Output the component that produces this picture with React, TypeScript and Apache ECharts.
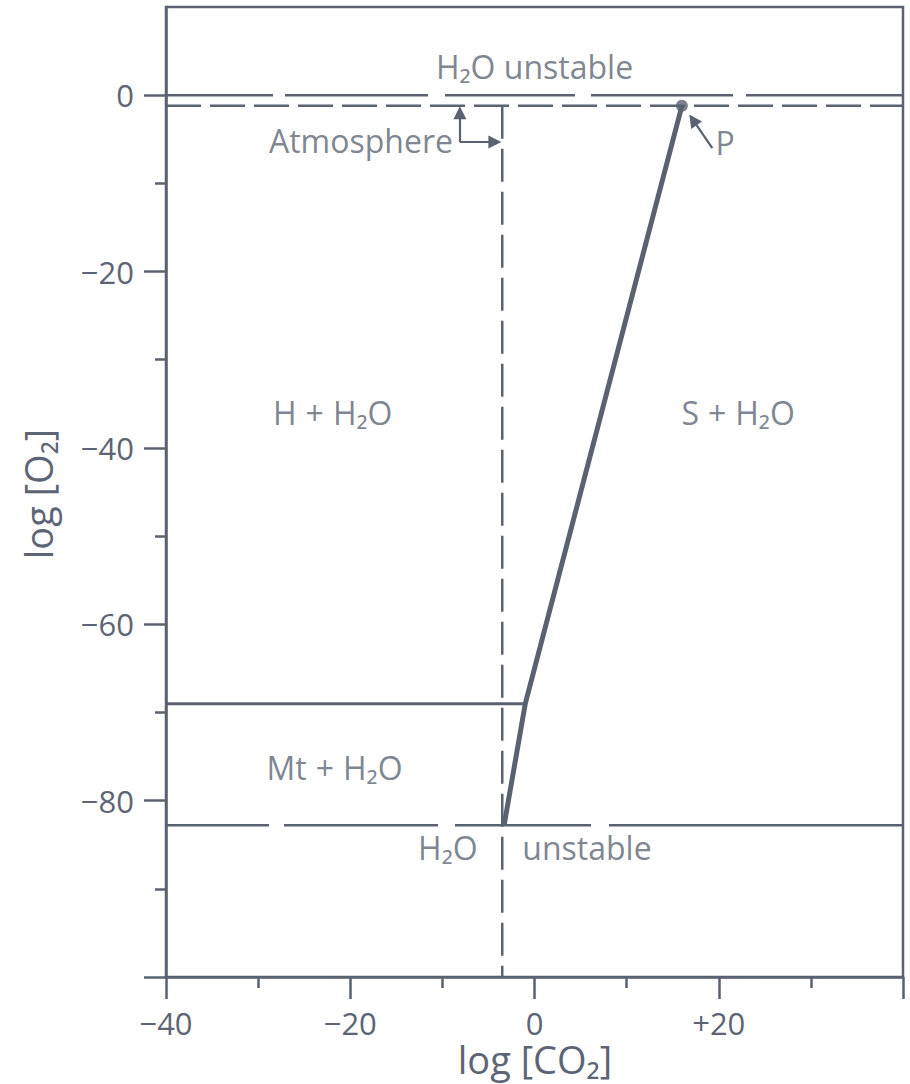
import React, { useEffect, useRef } from "react";
import * as echarts from "echarts";

// ---- axis extents and ticks ----
const xExtent = [-40, 40];
const yExtent = [-100, 10];
const xMajorTicks = [-40, -20, 0, 20, 40];
const xTickLabels = ["−40", "−20", "0", "+20", ""];
const yMajorTicks = [-100, -80, -60, -40, -20, 0];
const yMinorTicks = [-90, -70, -50, -30, -10];
const yTickLabels = ["", "−80", "−60", "−40", "−20", "0"];
const xTitle = "log [CO₂]";
const yTitle = "log [O₂]";

// ---- boundaries (log CO2, log O2) ----
const upperWaterLimit = [[-40, 0], [40, 0]];
const atmosphereO2 = [[-40, -1.2], [40, -1.2]];
const atmosphereCO2 = [[-3.5, -1.2], [-3.5, -100]];
const lowerWaterLimit = [[-40, -82.8], [40, -82.8]];
const hematiteMagnetite = [[-40, -69], [-1, -69]];
const sideriteBoundary = [[16, -1.2], [-1, -69], [-3.3, -82.8]];
const pointP = [[16, -1.2]];

// ---- arrows ----
const atmosphereArrowUp = [[-8.1, -5.3], [-8.1, -2.0]];
const atmosphereArrowRight = [[-8.1, -5.3], [-4.3, -5.3]];
const pArrow = [[19.3, -6.0], [17.2, -2.8]];

// ---- annotations ----
const centeredLabels = [
  { name: "H₂O unstable", value: [0, 3.3] },
  { name: "H + H₂O", value: [-21.9, -36] },
  { name: "S + H₂O", value: [22.1, -36] },
  { name: "Mt + H₂O", value: [-21.7, -76.2] },
  { name: "H₂O", value: [-9.4, -85.3] },
  { name: "unstable", value: [5.7, -85.3] },
  { name: "P", value: [20.7, -5.4] },
];
const rightAlignedLabels = [{ name: "Atmosphere", value: [-8.8, -5.1] }];

const INK = "#5a6271";
const TEXT = "#5d6574";
const FONT = "'Open Sans', 'Noto Sans', sans-serif";

export default function App() {
  const ref = useRef<HTMLDivElement>(null);

  useEffect(() => {
    if (!ref.current) return;
    const chart = echarts.init(ref.current, undefined, { renderer: "svg" });

    const lineSeries = (data: number[][], width: number, type: any, dashOffset = 0) => ({
      type: "line",
      data,
      symbol: "none",
      silent: true,
      lineStyle: { color: INK, width, type, dashOffset, cap: "butt" },
      z: 3,
    });

    const arrowSeries = (coords: number[][]) => ({
      type: "lines",
      coordinateSystem: "cartesian2d",
      silent: true,
      symbol: ["none", "triangle"],
      symbolSize: [10, 13],
      lineStyle: { color: INK, width: 2.2, opacity: 1, curveness: 0 },
      itemStyle: { color: INK },
      data: [{ coords }],
      z: 4,
    });

    const labelText = {
      fontSize: 32,
      color: TEXT,
      fontFamily: FONT,
      rich: {
        p: { fontSize: 32, color: TEXT, fontFamily: FONT, padding: [0, 9, 0, 9] },
      },
    };

    const titleStyle = {
      fontSize: 38,
      lineHeight: 38,
      fontFamily: FONT,
      fontWeight: 500,
      fill: TEXT,
      align: "center",
      verticalAlign: "middle",
    };

    chart.setOption({
      animation: false,
      backgroundColor: "#ffffff",
      grid: {
        left: 166,
        right: 7,
        top: 7,
        bottom: 107,
        outerBoundsMode: "none",
        containLabel: false,
        show: true,
        borderColor: INK,
        borderWidth: 2.5,
        backgroundColor: "transparent",
      },
      xAxis: {
        type: "value",
        min: xExtent[0],
        max: xExtent[1],
        interval: 20,
        axisLine: { show: true, onZero: false, lineStyle: { color: INK, width: 2.5 } },
        axisTick: { show: true, length: 22, lineStyle: { color: INK, width: 2.5 } },
        minorTick: { show: true, splitNumber: 2, length: 11, lineStyle: { color: INK, width: 2.5 } },
        splitLine: { show: false },
        minorSplitLine: { show: false },
        axisLabel: {
          margin: 33,
          fontSize: 31,
          lineHeight: 26,
          color: TEXT,
          fontFamily: FONT,
          formatter: (v: number) => {
            const i = xMajorTicks.indexOf(v);
            return i >= 0 ? xTickLabels[i] : "";
          },
        },
      },
      yAxis: [
        {
          type: "value",
          position: "left",
          min: yExtent[0],
          max: yExtent[1],
          interval: 20,
          axisLine: { show: true, onZero: false, lineStyle: { color: INK, width: 2.5 } },
          axisTick: { show: true, length: 22, customValues: yMajorTicks, lineStyle: { color: INK, width: 2.5 } },
          splitLine: { show: false },
          axisLabel: {
            margin: 32,
            fontSize: 31,
            color: TEXT,
            fontFamily: FONT,
            customValues: yMajorTicks,
            formatter: (v: number) => {
              const i = yMajorTicks.indexOf(v);
              return i >= 0 ? yTickLabels[i] : "";
            },
          },
        },
        {
          type: "value",
          position: "left",
          min: yExtent[0],
          max: yExtent[1],
          interval: 10,
          axisLine: { show: false, onZero: false },
          axisTick: { show: true, length: 11, customValues: yMinorTicks, lineStyle: { color: INK, width: 2.5 } },
          splitLine: { show: false },
          axisLabel: { show: false },
        },
      ],
      graphic: [
        {
          type: "text",
          x: 535,
          y: 1059,
          style: { text: xTitle, ...titleStyle },
        },
        {
          type: "text",
          x: 38,
          y: 494,
          rotation: Math.PI / 2,
          style: { text: yTitle, ...titleStyle },
        },
      ],
      series: [
        lineSeries(upperWaterLimit, 2.5, [107, 12, 143, 17, 130, 16, 142, 13, 400], 0),
        lineSeries(atmosphereO2, 2.5, [35, 9], 0),
        lineSeries(atmosphereCO2, 2.5, [33, 10], 0),
        lineSeries(lowerWaterLimit, 2.5, [103, 15, 154, 17, 136, 18, 400], 0),
        lineSeries(hematiteMagnetite, 3, "solid"),
        lineSeries(sideriteBoundary, 5, "solid"),
        {
          type: "scatter",
          data: pointP,
          symbol: "circle",
          symbolSize: 12,
          silent: true,
          itemStyle: { color: INK },
          z: 5,
        },
        arrowSeries(atmosphereArrowUp),
        arrowSeries(atmosphereArrowRight),
        arrowSeries(pArrow),
        {
          type: "scatter",
          data: centeredLabels,
          symbolSize: 1,
          silent: true,
          itemStyle: { color: "rgba(0,0,0,0)" },
          label: {
            show: true,
            position: "inside",
            formatter: (p: any) => String(p.name).replace(" + ", "{p|+}"),
            ...labelText,
          },
          z: 6,
        },
        {
          type: "scatter",
          data: rightAlignedLabels,
          symbolSize: 1,
          silent: true,
          itemStyle: { color: "rgba(0,0,0,0)" },
          label: {
            show: true,
            position: "left",
            distance: 0,
            formatter: "{b}",
            ...labelText,
          },
          z: 6,
        },
      ],
    });

    return () => chart.dispose();
  }, []);

  return (
    <div
      ref={ref}
      style={{ position: "absolute", left: 0, top: 0, width: 910, height: 1084 }}
    />
  );
}
